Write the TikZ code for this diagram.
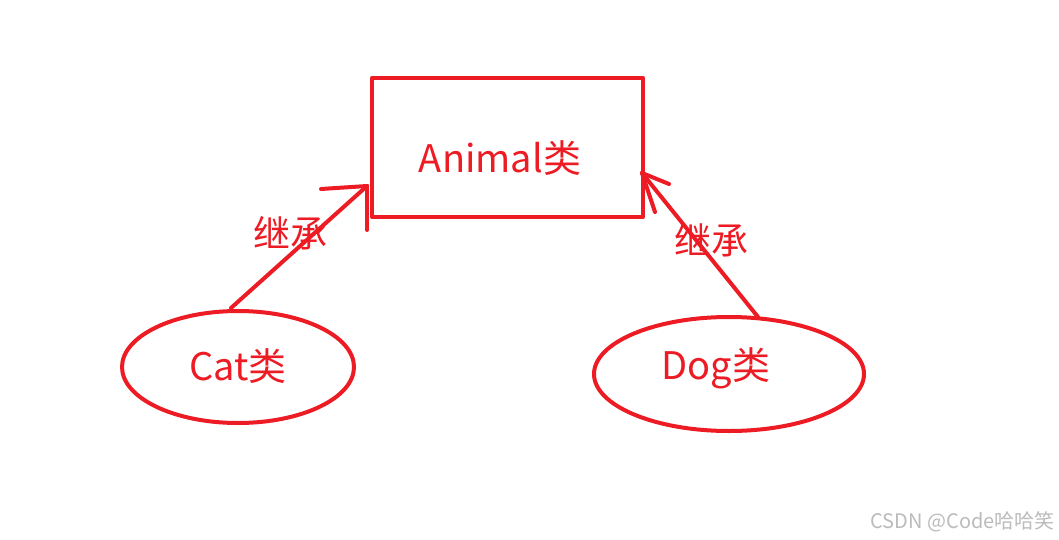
\documentclass[tikz,border=0pt]{standalone}
\usepackage{fontspec}
\setmainfont{Noto Sans CJK SC}
\definecolor{pred}{HTML}{ED1C24}
\definecolor{wm}{HTML}{BBBBBB}
\begin{document}
\begin{tikzpicture}[x=1pt,y=-1pt,
  redline/.style={draw=pred,line width=4pt,line cap=round,line join=round},
  bigtext/.style={text=pred,font=\fontsize{38}{38}\selectfont,inner sep=0pt},
  labeltext/.style={text=pred,font=\fontsize{37}{37}\selectfont,inner sep=0pt}]
\useasboundingbox (0,0) rectangle (1059,540);
\fill[white] (0,0) rectangle (1059,540);
% Animal box
\draw[redline] (372,78) rectangle (643,217);
\node[bigtext] (animal) at (500,158) {Animal类};
% ellipses
\draw[redline] (238,367) ellipse [x radius=116, y radius=56];
\node[bigtext] (cat) at (238,366) {Cat类};
\draw[redline] (729,374) ellipse [x radius=135, y radius=57];
\node[bigtext] (dog) at (716,368) {Dog类};
% anchor coordinates
\coordinate (catTop) at (231,308);
\coordinate (tipL) at (367,186);
\coordinate (dogTop) at (758,317);
\coordinate (tipR) at (642,173);
% arrows
\draw[redline] (catTop) -- (tipL);
\draw[redline] (tipL) -- (321,189);
\draw[redline] (tipL) -- (367,230);
\draw[redline] (dogTop) -- (tipR);
\draw[redline] (tipR) -- (669,184);
\draw[redline] (tipR) -- (655,212);
% labels
\node[labeltext] (l1) at (290,233) {继承};
\node[labeltext] (l2) at (711,240) {继承};
% watermark
\node[text=wm,font=\fontsize{20}{20}\selectfont,inner sep=0pt,anchor=east] (wmk) at (1055,522) {CSDN @Code哈哈笑};
\end{tikzpicture}
\end{document}
